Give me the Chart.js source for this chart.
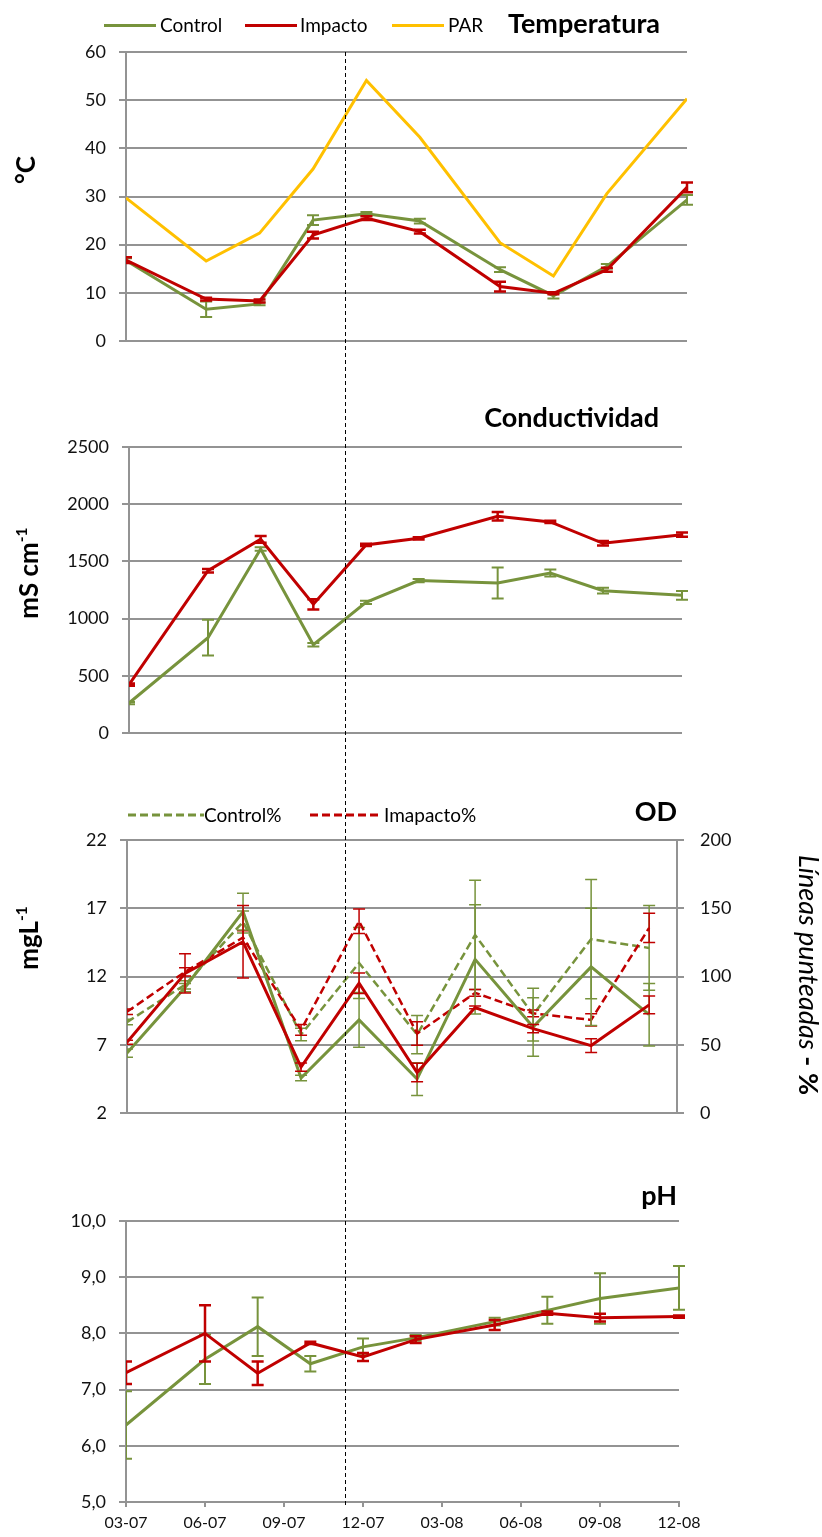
<!DOCTYPE html>
<html><head><meta charset="utf-8">
<script src="https://cdn.jsdelivr.net/npm/chart.js@4.4.1/dist/chart.umd.min.js"></script>
<style>
html,body{margin:0;padding:0;background:#fff;}
#wrap{position:relative;width:822px;height:1537px;overflow:hidden;font-family:Lato,'Open Sans',sans-serif;color:#000;}
canvas{position:absolute;left:0;}
.t{position:absolute;white-space:nowrap;line-height:1;}
.title{font-weight:bold;font-size:27px;}
.leg{font-size:19px;}
.sw{position:absolute;height:0;border-top-width:3px;border-top-style:solid;}
.ax{font-weight:bold;font-size:26px;}
.rot{position:absolute;white-space:nowrap;line-height:1;transform:translate(-50%,-50%) rotate(-90deg);}
.rotR{position:absolute;white-space:nowrap;line-height:1;transform:translate(-50%,-50%) rotate(90deg);}
sup{font-size:0.6em;vertical-align:0.7em;line-height:0;}
</style></head>
<body><div id="wrap">
<canvas id="c1" width="822" height="380" style="top:0;width:822px;height:380px"></canvas>
<canvas id="c2" width="822" height="380" style="top:380px;width:822px;height:380px"></canvas>
<canvas id="c3" width="822" height="380" style="top:760px;width:822px;height:380px"></canvas>
<canvas id="c4" width="822" height="397" style="top:1140px;width:822px;height:397px"></canvas>

<!-- panel 1 legend + title -->
<div class="sw" style="left:104px;top:23.5px;width:52px;border-top-color:#77933C"></div>
<div class="t leg" style="left:160px;top:15px">Control</div>
<div class="sw" style="left:245px;top:23.5px;width:52px;border-top-color:#C00000"></div>
<div class="t leg" style="left:300px;top:15px">Impacto</div>
<div class="sw" style="left:392px;top:23.5px;width:52px;border-top-color:#FFC000"></div>
<div class="t leg" style="left:448px;top:15px">PAR</div>
<div class="t title" style="right:162px;top:9px">Temperatura</div>
<div class="t title" style="right:163px;top:403px">Conductividad</div>
<div class="t title" style="right:145px;top:797px">OD</div>
<div class="t title" style="right:145px;top:1181px">pH</div>

<!-- OD legend -->
<svg style="position:absolute;left:128px;top:812px" width="76" height="6"><line x1="0" y1="3" x2="76" y2="3" stroke="#77933C" stroke-width="3" stroke-dasharray="8 4"/></svg>
<div class="t leg" style="left:204px;top:805px">Control%</div>
<svg style="position:absolute;left:310px;top:812px" width="70" height="6"><line x1="0" y1="3" x2="70" y2="3" stroke="#C00000" stroke-width="3" stroke-dasharray="8 4"/></svg>
<div class="t leg" style="left:384px;top:805px">Imapacto%</div>

<!-- axis titles -->
<div class="rot ax" style="left:25px;top:170px">°C</div>
<div class="rot ax" style="left:28px;top:573px">mS cm<sup>-1</sup></div>
<div class="rot ax" style="left:28px;top:938px">mgL<sup>-1</sup></div>
<div class="rotR" style="left:809px;top:975px;font-size:27px"><i>Líneas punteadas</i><b> - %</b></div>

<svg id="divider" style="position:absolute;left:0;top:0;pointer-events:none" width="822" height="1537"></svg>
</div>
<script>
// ---------------- DATA ----------------
const sampleDates = ["03-07","06-07","08-07","10-07","12-07","02-08","05-08","07-08","09-08","12-08"];
const xTickLabels = ["03-07","06-07","09-07","12-07","03-08","06-08","09-08","12-08"];

const tempControl    = [16.7, 6.6, 7.7, 25.1, 26.4, 24.9, 14.8, 9.4, 15.5, 29.3];
const tempControlErr = [0.5, 1.6, 0.3, 1.0, 0.4, 0.5, 0.5, 0.6, 0.5, 1.0];
const tempImpacto    = [16.8, 8.7, 8.3, 22.0, 25.5, 22.7, 11.3, 9.9, 14.8, 31.9];
const tempImpactoErr = [0.6, 0.3, 0.3, 0.7, 0.4, 0.4, 1.0, 0.2, 0.4, 1.0];
const tempPAR        = [29.7, 16.6, 22.4, 35.7, 54.1, 42.3, 20.4, 13.5, 30.6, 50.3];

const condControl    = [262, 833, 1609, 772, 1142, 1332, 1311, 1399, 1244, 1203];
const condControlErr = [10, 156, 15, 15, 15, 15, 135, 30, 25, 38];
const condImpacto    = [423, 1419, 1693, 1125, 1644, 1702, 1894, 1845, 1658, 1734];
const condImpactoErr = [10, 15, 30, 45, 10, 10, 37, 10, 20, 18];

const odControl       = [6.4, 11.2, 16.76, 4.57, 8.83, 4.5, 13.26, 8.31, 12.71, 9.21];
const odControlErr    = [0.3, 0.3, 1.35, 0.2, 2.0, 1.2, 4.0, 2.14, 4.29, 2.29];
const odImpacto       = [7.19, 12.24, 14.55, 5.38, 11.52, 4.98, 9.74, 8.19, 6.95, 9.93];
const odImpactoErr    = [0.15, 1.44, 2.65, 0.3, 0.75, 0.68, 0.1, 0.3, 0.5, 0.65];
const odControlPct    = [66.7, 94, 140, 57.6, 110, 57.6, 130.5, 72.1, 127.4, 121];
const odControlPctErr = [2, 3, 8, 4.5, 26, 14, 40, 19.3, 43.6, 31];
const odImpactoPct    = [74.3, 103.5, 128.6, 61, 140.5, 58.3, 88.1, 73.1, 68.3, 135.7];
const odImpactoPctErr = [2, 3, 5, 4, 9, 8.6, 2.4, 2.5, 4.5, 10.7];

const phControl    = [6.37, 7.54, 8.12, 7.46, 7.76, 7.92, 8.21, 8.41, 8.62, 8.81];
const phControlErr = [0.6, 0.44, 0.52, 0.14, 0.15, 0.05, 0.07, 0.24, 0.45, 0.39];
const phImpacto    = [7.30, 8.00, 7.29, 7.83, 7.58, 7.89, 8.15, 8.36, 8.28, 8.30];
const phImpactoErr = [0.2, 0.5, 0.21, 0.02, 0.07, 0.06, 0.09, 0.03, 0.07, 0.02];

const dividerMonth = 8.33; // separation (≈ Nov 2007), months after 03-07

// ---------------- HELPERS ----------------
const GREEN = '#77933C', RED = '#C00000', YELLOW = '#FFC000', GRID = '#939393';
function monthIndex(s){ const [m,y] = s.split('-').map(Number); return (y-7)*12 + (m-3); }
const byDate = vals => vals.map((v,i)=>({x: monthIndex(sampleDates[i]), y: v}));
const byIndex = vals => vals.map((v,i)=>({x: i, y: v}));

const errorBarPlugin = {
  id:'errorBars',
  afterDatasetDraw(chart, args){
    const ds = chart.data.datasets[args.index];
    if(!ds.errors) return;
    const meta = args.meta;
    const xs = chart.scales[meta.xAxisID], ys = chart.scales[meta.yAxisID];
    const ctx = chart.ctx, a = chart.chartArea;
    ctx.save();
    ctx.beginPath(); ctx.rect(a.left, 0, chart.width - a.left, chart.height); ctx.clip();
    ctx.strokeStyle = ds.borderColor; ctx.lineWidth = ds.errorWidth || 2; ctx.setLineDash([]);
    const cw = ds.capHalf || 6;
    ds.data.forEach((p,j)=>{
      const e = ds.errors[j]; if(e == null) return;
      const x = xs.getPixelForValue(p.x), t = ys.getPixelForValue(p.y+e), b = ys.getPixelForValue(p.y-e);
      ctx.beginPath();
      ctx.moveTo(x,t); ctx.lineTo(x,b);
      ctx.moveTo(x-cw,t); ctx.lineTo(x+cw,t);
      ctx.moveTo(x-cw,b); ctx.lineTo(x+cw,b);
      ctx.stroke();
    });
    ctx.restore();
  }
};
Chart.register(errorBarPlugin);

const tickFont = {family:'Lato', size:18};
function yAxis(min,max,step,width,fmt){
  return {
    position:'left', min, max,
    ticks:{stepSize:step, font:tickFont, color:'#111', padding:13, callback: fmt || (v=>v)},
    grid:{color:GRID, lineWidth:2, tickLength:7, drawTicks:true},
    border:{color:GRID, width:2},
    afterFit(s){ s.width = width; }
  };
}
function hiddenX(min,max){
  return {type:'linear', min, max, display:false, afterFit(s){ s.height = 0; }};
}
function line(label, pts, color, opts){
  return Object.assign({label, data:pts, borderColor:color, backgroundColor:color, borderWidth:3,
    pointRadius:0, tension:0, fill:false}, opts||{});
}
const common = {responsive:false, animation:false, plugins:{legend:{display:false}, tooltip:{enabled:false}}};

// ---------------- PANEL 1: Temperatura ----------------
new Chart(document.getElementById('c1'), {
  type:'line',
  data:{datasets:[
    line('Impacto', byDate(tempImpacto), RED, {errors:tempImpactoErr, order:0, errorWidth:2.5}),
    line('Control', byDate(tempControl), GREEN, {errors:tempControlErr, order:1}),
    line('PAR', byDate(tempPAR), YELLOW, {order:2})
  ]},
  options:Object.assign({}, common, {
    layout:{padding:{top:52, right:135, bottom:39, left:0}},
    scales:{ x:hiddenX(0,21), y:yAxis(0,60,10,126) }
  })
});

// ---------------- PANEL 2: Conductividad ----------------
new Chart(document.getElementById('c2'), {
  type:'line',
  data:{datasets:[
    line('Impacto', byDate(condImpacto), RED, {errors:condImpactoErr, order:0, errorWidth:2.5}),
    line('Control', byDate(condControl), GREEN, {errors:condControlErr, order:1})
  ]},
  options:Object.assign({}, common, {
    layout:{padding:{top:67, right:140, bottom:27, left:0}},
    scales:{ x:hiddenX(0,21), y:yAxis(0,2500,500,129) }
  })
});

// ---------------- PANEL 3: OD ----------------
const y1 = {
  position:'right', min:0, max:200,
  ticks:{stepSize:50, font:tickFont, color:'#111', padding:16},
  grid:{drawOnChartArea:false, color:GRID, lineWidth:2, tickLength:7, drawTicks:true},
  border:{color:GRID, width:2},
  afterFit(s){ s.width = 145; }
};
new Chart(document.getElementById('c3'), {
  type:'line',
  data:{datasets:[
    line('Impacto', byIndex(odImpacto), RED, {errors:odImpactoErr, order:0, errorWidth:1.5}),
    line('Control', byIndex(odControl), GREEN, {errors:odControlErr, order:1, errorWidth:1.5}),
    line('Imapacto%', byIndex(odImpactoPct), RED, {errors:odImpactoPctErr, yAxisID:'y1', order:2, borderDash:[8,4], borderWidth:2.5, errorWidth:1.5}),
    line('Control%', byIndex(odControlPct), GREEN, {errors:odControlPctErr, yAxisID:'y1', order:3, borderDash:[8,4], borderWidth:2.5, errorWidth:1.5})
  ]},
  options:Object.assign({}, common, {
    layout:{padding:{top:80, right:0, bottom:20, left:0}},
    scales:{ x:hiddenX(0,9.48), y:yAxis(2,22,5,127), y1 }
  })
});

// ---------------- PANEL 4: pH ----------------
const chart4 = new Chart(document.getElementById('c4'), {
  type:'line',
  data:{datasets:[
    line('Impacto', byDate(phImpacto), RED, {errors:phImpactoErr, order:0, errorWidth:2.5}),
    line('Control', byDate(phControl), GREEN, {errors:phControlErr, order:1})
  ]},
  options:Object.assign({}, common, {
    layout:{padding:{top:81, right:143, bottom:0, left:0}},
    scales:{
      x:{type:'linear', min:0, max:21,
         ticks:{stepSize:3, font:{family:'Lato', size:16}, color:'#111', padding:6, maxRotation:0,
                callback:v=>xTickLabels[Math.round(v/3)]},
         grid:{drawOnChartArea:false, color:GRID, lineWidth:2, tickLength:5, drawTicks:true},
         border:{color:GRID, width:2},
         afterFit(s){ s.height = 35; }},
      y:yAxis(5,10,1,126, v=>v.toFixed(1).replace('.',','))
    }
  })
});

// dashed separation line across all panels
const dx = Math.round(chart4.scales.x.getPixelForValue(dividerMonth)) + 0.5;
const svg = document.getElementById('divider');
svg.innerHTML = `<line x1="${dx}" y1="52" x2="${dx}" y2="1506" stroke="#000" stroke-width="1" stroke-dasharray="4 3"/>`;
</script>
</body></html>
